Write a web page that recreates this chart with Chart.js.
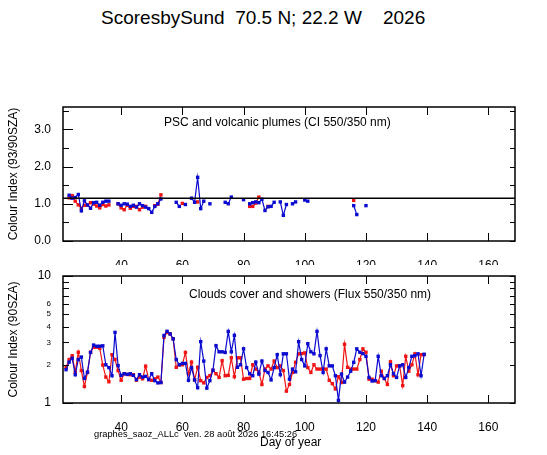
<!DOCTYPE html>
<html>
<head>
<meta charset="utf-8">
<script src="https://cdn.jsdelivr.net/npm/chart.js@4.4.1/dist/chart.umd.min.js"></script>
<style>
  body { margin: 0; background: #fff; font-family: "Liberation Sans", Arial, sans-serif; }
  #page { position: relative; width: 547px; height: 455px; overflow: hidden; }
  canvas { position: absolute; left: 0; }
  #cTop { top: 95px; }
  #cBottom { top: 262px; }
  .txt { position: absolute; white-space: pre; color: #000; line-height: 1; }
  #title { left: 101px; top: 8px; font-size: 19px; }
  #capTop { left: 164px; top: 116px; font-size: 12px; }
  #capBottom { left: 189px; top: 288px; font-size: 12px; }
  #stamp { left: 94px; top: 430px; font-size: 9.3px; }
  #xlab { left: 260px; top: 436px; font-size: 12px; }
</style>
</head>
<body>
<div id="page">
  <div class="txt" id="title">ScoresbySund  70.5 N; 22.2 W    2026</div>
  <canvas id="cTop" width="547" height="170"></canvas>
  <canvas id="cBottom" width="547" height="193"></canvas>
  <div class="txt" id="capTop">PSC and volcanic plumes (CI 550/350 nm)</div>
  <div class="txt" id="capBottom">Clouds cover and showers (Flux 550/350 nm)</div>
  <div class="txt" id="stamp">graphes_saoz_ALLc  ven. 28 août 2026 16:45:26</div>
  <div class="txt" id="xlab">Day of year</div>
</div>
<script>
// Shared day axis
const dayMin = 21;
const dayMax = 168.7;
const dayTicks = [40, 60, 80, 100, 120, 140, 160];

// Top panel: colour index 93/90 SZA
const ciTicks = [0, 1, 2, 3];
const ciMarks = [0, 0.5, 1, 1.5, 2, 2.5, 3, 3.5];
const ciRef = 1.15;

const ciBlueDays = [23, 24, 25, 26, 27, 28, 29, 30, 31, 32, 33, 34, 35, 36,
  39, 40, 41, 42, 43, 44, 45, 46, 47, 48, 49, 50, 51, 52, 53,
  58, 59, 61, 63, 64, 65, 66, 67, 69, 74, 75, 76, 80,
  82, 83, 84, 85, 86, 87, 88, 89, 90, 92, 93, 94, 96, 97, 100, 101,
  116, 117, 120];
const ciBlue = [1.23, 1.15, 1.17, 1.25, 0.81, 1.08, 0.97, 0.88, 1.03, 1.04, 0.96, 1.04, 1.07, 1.07,
  1.0, 0.96, 1.0, 0.99, 0.93, 0.96, 0.91, 1.0, 0.95, 0.91, 0.87, 0.77, 0.93, 1.0, 1.13,
  1.04, 0.93, 0.98, 1.15, 1.04, 1.71, 0.87, 1.07, 1.0, 1.04, 1.0, 1.18, 1.11,
  1.0, 1.03, 1.05, 1.03, 1.12, 0.82, 0.92, 0.93, 1.04, 1.05, 0.69, 0.98, 1.0, 1.05, 1.1, 1.07,
  0.95, 0.71, 0.95];

const ciRedDays = [23, 24, 25, 26, 27, 28, 29, 30, 31, 32, 33, 34, 35, 36,
  39, 40, 41, 42, 43, 44, 45, 46, 47, 48, 51, 52, 53,
  60, 65, 82, 83, 84, 85, 88, 116];
const ciRed = [1.16, 1.22, 1.07, 0.97, 0.88, 0.96, 0.96, 1.03, 0.99, 0.94, 0.89, 0.98, 0.94, 0.97,
  1.0, 0.89, 0.84, 0.96, 0.88, 0.93, 0.93, 0.84, 0.91, 0.93, 0.95, 0.99, 1.24,
  1.01, 1.05, 0.93, 0.93, 1.02, 1.18, 0.93, 1.09];

// Bottom panel: colour index 90 SZA (flux ratio), log scale
const fluxTicks = [1, 2, 3, 4, 5, 6, 10];
const fluxMarks = [1, 2, 3, 4, 5, 6, 7, 8, 9, 10];

const fluxDays = [22, 23, 24, 25, 26, 27, 28, 29, 30, 31, 32, 33, 34, 35, 36, 37, 38, 39, 40,
  41, 42, 43, 44, 45, 46, 47, 48, 49, 50, 51, 52, 53, 54, 55, 56, 57, 58, 59, 60,
  61, 62, 63, 64, 65, 66, 67, 68, 69, 70, 71, 72, 73, 74, 75, 76, 77, 78, 79, 80,
  81, 82, 83, 84, 85, 86, 87, 88, 89, 90, 91, 92, 93, 94, 95, 96, 97, 98, 99, 100,
  101, 102, 103, 104, 105, 106, 107, 108, 109, 110, 111, 112, 113, 114, 115, 116, 117, 118, 119, 120,
  121, 122, 123, 124, 125, 126, 127, 128, 129, 130, 131, 132, 133, 134, 135, 136, 137, 138, 139];
const fluxBlue = [1.83, 2.1, 2.25, 1.67, 2.2, 2.3, 1.56, 1.75, 2.5, 2.86, 2.8, 2.8, 2.82, 2.0, 1.9, 1.64, 3.6, 1.97, 1.65,
  1.7, 1.68, 1.7, 1.65, 1.53, 1.67, 1.6, 1.62, 1.53, 1.7, 1.5, 1.44, 1.45, 3.4, 3.67, 3.5, 3.2, 2.2, 2.0, 2.05,
  2.05, 1.51, 1.9, 1.52, 1.32, 3.04, 2.14, 1.31, 1.5, 1.81, 2.83, 2.53, 2.53, 2.5, 3.66, 2.53, 3.41, 1.91, 2.0, 2.67,
  1.9, 1.7, 1.64, 2.1, 1.69, 2.14, 1.8, 1.74, 1.52, 1.9, 2.4, 1.67, 2.44, 2.44, 1.54, 1.85, 1.76, 3.04, 2.2, 1.96,
  2.93, 2.53, 2.44, 3.66, 2.36, 1.74, 2.67, 1.96, 1.96, 1.64, 1.05, 1.69, 1.46, 1.6, 1.78, 2.09, 2.67, 2.51, 2.45, 2.33,
  1.59, 1.49, 1.5, 2.33, 1.64, 1.56, 1.64, 2.0, 1.7, 1.59, 1.96, 2.0, 1.59, 1.9, 2.33, 2.36, 2.44, 1.64, 2.42];
const fluxRed = [1.91, 2.2, 2.36, 1.75, 2.51, 1.8, 1.35, 1.74, 2.51, 2.75, 2.75, 2.7, 1.99, 1.6, 1.47, 2.4, 2.2, 1.8, 1.51,
  1.7, 1.68, 1.67, 1.67, 1.51, 1.6, 1.55, 1.95, 1.53, 1.51, 1.55, 1.6, 1.45, 3.29, 3.6, 3.5, 3.2, 1.91, 2.0, 2.0,
  2.5, 1.7, 2.1, 1.52, 1.91, 1.5, 1.44, 1.59, 1.64, 1.81, 1.7, 1.59, 2.15, 1.64, 1.65, 2.27, 1.61, 2.27, 2.27, 1.54,
  1.56, 1.56, 2.0, 1.85, 1.75, 1.4, 1.85, 1.96, 1.85, 2.14, 1.9, 1.96, 1.8, 1.24, 1.4, 1.74, 2.09, 2.44, 2.45, 2.48,
  1.9, 1.74, 2.0, 1.85, 1.85, 1.85, 1.85, 1.51, 1.42, 1.29, 1.61, 1.45, 2.9, 1.91, 1.85, 1.85, 1.85, 2.2, 2.67, 2.51,
  1.54, 1.54, 1.5, 1.46, 1.78, 1.56, 1.4, 2.11, 1.64, 1.96, 1.96, 1.37, 2.33, 1.78, 2.0, 2.44, 1.67, 2.4, 2.4];

const colors = {
    blue: '#0a0ad0',
    red: '#f01414',
    ink: '#000000'
};

function pairs(days, values) {
    return days.map((d, i) => ({ x: d, y: values[i] }));
}

// daily series, no line across missing days
function series(days, values, color) {
    return {
        data: pairs(days, values),
        borderColor: color,
        backgroundColor: color,
        borderWidth: 1.2,
        pointStyle: 'rect',
        pointRadius: 2.4,
        pointBorderWidth: 0,
        segment: {
            borderColor: ctx => (ctx.p1.parsed.x - ctx.p0.parsed.x > 1.5 ? 'transparent' : color)
        }
    };
}

// box round the plot with inward tick marks on all four sides
const framePlugin = {
    id: 'frame',
    afterDraw(chart, args, opts) {
        const { ctx, chartArea: a, scales: { x, y } } = chart;
        ctx.save();
        ctx.strokeStyle = colors.ink;
        ctx.lineWidth = 1.5;
        ctx.strokeRect(a.left, a.top, a.right - a.left, a.bottom - a.top);
        ctx.lineWidth = 1;
        ctx.beginPath();
        dayTicks.forEach(v => {
            const px = Math.round(x.getPixelForValue(v)) + 0.5;
            ctx.moveTo(px, a.top); ctx.lineTo(px, a.top + 8);
            ctx.moveTo(px, a.bottom); ctx.lineTo(px, a.bottom - 8);
        });
        opts.marks.forEach(v => {
            const py = Math.round(y.getPixelForValue(v)) + 0.5;
            const len = opts.major.includes(v) ? 10 : 6;
            ctx.moveTo(a.left, py); ctx.lineTo(a.left + len, py);
            ctx.moveTo(a.right, py); ctx.lineTo(a.right - 5, py);
        });
        ctx.stroke();
        ctx.restore();
    }
};

function dayAxis(height) {
    return {
        type: 'linear',
        min: dayMin,
        max: dayMax,
        afterBuildTicks: s => { s.ticks = dayTicks.map(v => ({ value: v })); },
        afterFit: s => { s.height = height; },
        grid: { display: false },
        border: { display: false },
        ticks: {
            color: colors.ink,
            padding: 9,
            maxRotation: 0,
            autoSkip: false,
            font: { family: 'Liberation Sans', size: 12 }
        }
    };
}

function yTitle(text) {
    return {
        display: true,
        text: text,
        color: colors.ink,
        padding: { top: 6, bottom: 0 },
        font: { family: 'Liberation Sans', size: 12 }
    };
}

const baseOptions = {
    responsive: false,
    animation: false,
    events: [],
    plugins: { legend: { display: false }, tooltip: { enabled: false } }
};

Chart.defaults.font.family = 'Liberation Sans';

new Chart(document.getElementById('cTop'), {
    type: 'line',
    data: {
        datasets: [
            {
                data: [{ x: dayMin, y: ciRef }, { x: dayMax, y: ciRef }],
                borderColor: colors.ink,
                borderWidth: 1.5,
                pointRadius: 0
            },
            series(ciBlueDays, ciBlue, colors.blue),
            series(ciRedDays, ciRed, colors.red)
        ]
    },
    options: {
        ...baseOptions,
        layout: { padding: { top: 12, right: 32, left: 0, bottom: 0 } },
        plugins: { ...baseOptions.plugins, frame: { marks: ciMarks, major: ciTicks } },
        scales: {
            x: dayAxis(24),
            y: {
                min: 0,
                max: 3.6,
                afterBuildTicks: s => { s.ticks = ciTicks.map(v => ({ value: v })); },
                afterFit: s => { s.width = 63; },
                grid: { display: false },
                border: { display: false },
                title: yTitle('Colour Index (93/90SZA)'),
                ticks: {
                    color: colors.ink,
                    padding: 4,
                    callback: v => v.toFixed(1),
                    font: { family: 'Liberation Sans', size: 12 }
                }
            }
        }
    },
    plugins: [framePlugin]
});

new Chart(document.getElementById('cBottom'), {
    type: 'line',
    data: {
        datasets: [
            series(fluxDays, fluxBlue, colors.blue),
            series(fluxDays, fluxRed, colors.red)
        ]
    },
    options: {
        ...baseOptions,
        layout: { padding: { top: 14, right: 32, left: 0, bottom: 0 } },
        plugins: { ...baseOptions.plugins, frame: { marks: fluxMarks, major: [1, 10] } },
        scales: {
            x: dayAxis(52),
            y: {
                type: 'logarithmic',
                min: 1,
                max: 10,
                afterBuildTicks: s => { s.ticks = fluxTicks.map(v => ({ value: v })); },
                afterFit: s => { s.width = 63; },
                grid: { display: false },
                border: { display: false },
                title: yTitle('Colour Index (90SZA)'),
                ticks: {
                    color: colors.ink,
                    padding: 4,
                    callback: v => String(v),
                    font: ctx => ({
                        family: 'Liberation Sans',
                        size: (ctx.tick && (ctx.tick.value === 1 || ctx.tick.value === 10)) ? 12 : 8
                    })
                }
            }
        }
    },
    plugins: [framePlugin]
});
</script>
</body>
</html>
